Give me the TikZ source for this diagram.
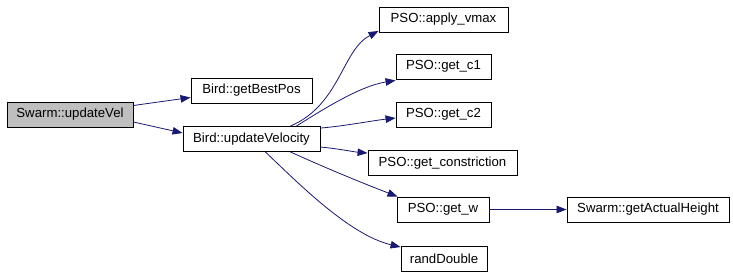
\documentclass[tikz,border=0pt]{standalone}
\usepackage{fontspec}
\setmainfont{Liberation Sans}
\usetikzlibrary{arrows.meta}
\definecolor{edgeblue}{HTML}{191970}
\definecolor{focusgray}{HTML}{BFBFBF}
\tikzset{
  fn/.style={draw=black, line width=0.9pt, fill=white, inner sep=0pt,
    minimum height=25pt, font=\fontsize{13.2}{15}\selectfont},
  focus/.style={fn, fill=focusgray},
  edge/.style={draw=edgeblue, line width=0.8pt,
    -{Triangle[length=10pt,width=7.5pt]}},
}
\begin{document}
\begin{tikzpicture}[x=1pt, y=-1pt]
  \useasboundingbox (0,0) rectangle (733,275);
  % call graph nodes
  \node[focus, minimum width=126pt] (vel)  at (70,114.5)  {Swarm::updateVel};
  \node[fn, minimum width=121pt]    (best) at (251.5,90.5) {Bird::getBestPos};
  \node[fn, minimum width=137pt]    (uv)   at (251.5,139)  {Bird::updateVelocity};
  \node[fn, minimum width=129pt]    (vmax) at (443.5,19.5) {PSO::apply\_vmax};
  \node[fn, minimum width=95pt]     (c1)   at (443.5,66.5) {PSO::get\_c1};
  \node[fn, minimum width=95pt]     (c2)   at (443.5,114.5) {PSO::get\_c2};
  \node[fn, minimum width=149pt]    (con)  at (442.5,163)  {PSO::get\_constriction};
  \node[fn, minimum width=92pt]     (w)    at (443,209.5)  {PSO::get\_w};
  \node[fn, minimum width=162pt]    (ah)   at (648,209.5)  {Swarm::getActualHeight};
  \node[fn, minimum width=86pt]     (rd)   at (444,259)    {randDouble};
  % calls
  \draw[edge] ([yshift=9pt]vel.east) -- ([yshift=-7pt]best.west);
  \draw[edge] ([yshift=-7.5pt]vel.east) -- ([yshift=6pt]uv.west);
  \draw[edge] ([xshift=-30pt]uv.north east) .. controls (340,105) and (342,50) .. ([yshift=1.5pt]vmax.south west);
  \draw[edge] ([xshift=-24pt]uv.north east) .. controls (322,110) and (360,86) .. ([yshift=-1pt]c1.south west);
  \draw[edge] ([yshift=-2pt]uv.north east) .. controls (345,126) and (370,121) .. ([yshift=-3.5pt]c2.west);
  \draw[edge] ([yshift=-8pt]uv.east) .. controls (340,149) and (355,152) .. ([yshift=-3pt]con.north west);
  \draw[edge] ([xshift=-30pt]uv.south east) .. controls (330,170) and (370,186) .. ([xshift=1pt]w.north west);
  \draw[edge] ([xshift=-55pt]uv.south east) .. controls (300,185) and (350,235) .. ([yshift=-1pt]rd.north west);
  \draw[edge] (w) -- (ah);
\end{tikzpicture}
\end{document}
